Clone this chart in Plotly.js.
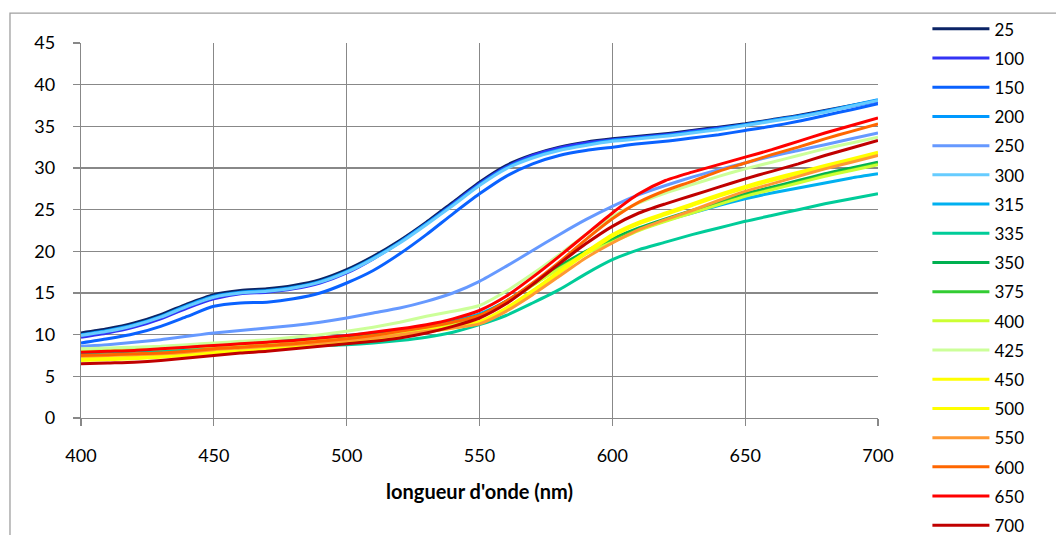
<!DOCTYPE html>
<html>
<head>
<meta charset="utf-8">
<script src="https://cdn.plot.ly/plotly-3.0.1.min.js"></script>
<style>html,body{margin:0;padding:0;background:#fff;width:1056px;height:535px;overflow:hidden;}#chart{width:1056px;height:560px;}</style>
</head>
<body>
<div id="chart"></div>
<script>
// wavelengths (nm)
const wavelength = [400,410,420,430,440,450,460,470,480,490,500,510,520,530,540,550,560,570,580,590,600,610,620,630,640,650,660,670,680,690,700];

const seriesNames = ["25","100","150","200","250","300","315","335","350","375","400","425","450","500","550","600","650","700"];
const seriesColors = ["#0B2466","#3333F5","#0A62FF","#0099FF","#6699FF","#66CCFF","#00B0F0","#00CC99","#00B050","#33CC33","#CCFF33","#CCFF99","#FFFF00","#FFFF00","#FF9933","#FF6600","#FF0000","#C00000"];

const s25  = [10.2,10.7,11.4,12.4,13.7,14.8,15.3,15.5,15.9,16.6,17.8,19.4,21.3,23.5,25.9,28.3,30.3,31.6,32.5,33.1,33.5,33.8,34.1,34.5,34.9,35.3,35.8,36.3,36.9,37.5,38.1];
const s100 = [9.7,10.2,10.9,11.9,13.2,14.3,14.9,15.1,15.5,16.2,17.4,19.1,21.1,23.3,25.7,28.1,30.1,31.5,32.4,33.0,33.4,33.7,34.0,34.4,34.8,35.2,35.7,36.2,36.8,37.4,38.0];
const s150 = [9.0,9.5,10.1,11.0,12.2,13.4,13.8,13.9,14.3,15.0,16.2,17.7,19.7,22.0,24.5,26.9,29.0,30.5,31.5,32.1,32.5,32.9,33.2,33.6,34.0,34.5,35.0,35.6,36.3,37.0,37.7];
const s200 = [10.0,10.5,11.2,12.2,13.5,14.6,15.1,15.3,15.7,16.4,17.6,19.2,21.1,23.3,25.6,28.0,30.0,31.3,32.2,32.8,33.3,33.6,33.9,34.3,34.7,35.2,35.7,36.2,36.8,37.5,38.2];
const s250 = [8.6,8.8,9.1,9.4,9.8,10.2,10.5,10.8,11.1,11.5,12.0,12.6,13.2,14.0,15.0,16.4,18.2,20.1,22.0,23.8,25.4,26.8,27.9,28.9,29.8,30.6,31.4,32.1,32.8,33.5,34.2];
const s300 = [9.9,10.4,11.1,12.1,13.4,14.5,15.0,15.2,15.6,16.3,17.5,19.1,21.0,23.2,25.5,27.9,29.9,31.2,32.1,32.7,33.2,33.5,33.8,34.2,34.6,35.1,35.6,36.1,36.7,37.4,38.1];
const s315 = [8.1,8.2,8.3,8.4,8.6,8.8,9.0,9.2,9.4,9.6,9.9,10.2,10.6,11.1,11.7,12.5,14.0,16.0,18.0,19.8,21.3,22.6,23.7,24.6,25.5,26.3,27.0,27.6,28.2,28.8,29.3];
const s335 = [7.8,7.9,8.0,8.1,8.2,8.3,8.4,8.5,8.6,8.7,8.8,9.0,9.3,9.7,10.3,11.2,12.3,13.8,15.4,17.3,19.0,20.2,21.1,22.0,22.8,23.6,24.3,25.0,25.7,26.3,26.9];
const s350 = [8.2,8.3,8.4,8.5,8.7,8.8,9.0,9.1,9.3,9.5,9.7,10.0,10.4,10.9,11.5,12.3,14.0,16.1,18.2,20.0,21.5,22.8,23.9,24.9,25.9,26.9,27.7,28.5,29.3,30.0,30.7];
const s375 = [8.1,8.2,8.3,8.4,8.6,8.7,8.9,9.0,9.2,9.4,9.6,9.9,10.3,10.8,11.4,12.2,13.9,16.0,18.0,19.8,21.3,22.6,23.7,24.7,25.7,26.7,27.5,28.3,29.1,29.8,30.5];
const s400 = [8.0,8.1,8.2,8.3,8.5,8.6,8.8,8.9,9.1,9.3,9.5,9.8,10.2,10.7,11.3,12.1,13.8,15.9,17.9,19.7,21.1,22.5,23.6,24.6,25.6,26.6,27.4,28.2,29.0,29.7,30.4];
const s425 = [8.3,8.4,8.5,8.6,8.8,9.0,9.2,9.4,9.7,10.0,10.4,10.9,11.5,12.2,12.8,13.5,15.2,17.3,19.6,22.0,24.2,25.8,27.0,28.0,29.0,29.9,30.7,31.5,32.3,33.0,33.7];
const s450 = [7.1,7.2,7.3,7.5,7.7,8.0,8.2,8.4,8.7,9.0,9.3,9.6,10.0,10.5,11.0,11.6,13.2,15.3,17.6,19.9,22.0,23.5,24.6,25.7,26.8,27.8,28.7,29.5,30.3,31.1,31.9];
const s500 = [6.9,7.0,7.1,7.3,7.5,7.8,8.0,8.2,8.5,8.8,9.1,9.4,9.8,10.3,10.8,11.4,13.0,15.1,17.4,19.7,21.8,23.3,24.4,25.5,26.6,27.6,28.5,29.3,30.1,30.9,31.7];
const s550 = [7.4,7.5,7.6,7.7,7.9,8.2,8.4,8.6,8.8,9.0,9.3,9.6,10.0,10.4,10.8,11.3,12.8,14.8,17.0,19.2,21.0,22.6,23.8,24.9,26.1,27.2,28.1,29.0,29.9,30.7,31.5];
const s600 = [7.5,7.6,7.7,7.8,8.0,8.3,8.5,8.7,8.9,9.2,9.5,9.9,10.4,10.9,11.5,12.3,14.0,16.2,18.7,21.4,23.9,25.9,27.3,28.4,29.6,30.6,31.6,32.5,33.5,34.4,35.3];
const s650 = [7.9,8.0,8.1,8.3,8.5,8.7,8.9,9.1,9.3,9.6,9.9,10.3,10.7,11.2,11.9,12.9,14.6,16.9,19.4,22.0,24.6,26.9,28.5,29.5,30.4,31.3,32.2,33.2,34.2,35.1,36.0];
const s700 = [6.5,6.6,6.7,6.9,7.2,7.5,7.8,8.0,8.3,8.6,8.9,9.2,9.6,10.2,11.0,12.0,13.7,16.0,18.5,20.9,23.0,24.6,25.7,26.7,27.7,28.7,29.6,30.5,31.5,32.4,33.3];

const seriesValues = [s25,s100,s150,s200,s250,s300,s315,s335,s350,s375,s400,s425,s450,s500,s550,s600,s650,s700];

const xTickVals = [400,450,500,550,600,650,700];
const yTickVals = [0,5,10,15,20,25,30,35,40,45];
const xTitle = "longueur d'onde (nm)";

const traces = seriesNames.map((name, i) => ({
  x: wavelength,
  y: seriesValues[i],
  name: name,
  legendgroup: "g" + i,
  type: "scatter",
  mode: "lines",
  line: {color: seriesColors[i], width: 3, shape: "spline", smoothing: 0.6}
}));

const fontFam = "Lato, 'Open Sans', sans-serif";
const layout = {
  width: 1056, height: 560,
  margin: {l: 81, r: 178, t: 42, b: 142, pad: 0},
  paper_bgcolor: "#ffffff", plot_bgcolor: "#ffffff",
  font: {family: fontFam, size: 17, color: "#000000"},
  showlegend: true,
  legend: {
    x: 1.062, xanchor: "left", y: 1.0816, yanchor: "top",
    font: {family: fontFam, size: 17, color: "#000000"},
    tracegroupgap: 4.1, itemwidth: 57, bgcolor: "rgba(0,0,0,0)",
    maxheight: 2000
  },
  xaxis: {
    range: [400, 700], tickvals: xTickVals, ticktext: xTickVals.map(String),
    showgrid: true, gridcolor: "#888888", gridwidth: 1.3,
    zeroline: false, showline: true, linecolor: "#888888", linewidth: 1.3,
    ticks: "outside", ticklen: 7, tickcolor: "#888888", tickwidth: 1.3,
    tickfont: {family: fontFam, size: 18, color: "#000"},
    ticklabelstandoff: 14,
    title: {text: "<b>" + xTitle + "</b>", font: {family: fontFam, size: 20, color: "#000"}, standoff: 20},
    fixedrange: true
  },
  yaxis: {
    range: [0, 45], tickvals: yTickVals, ticktext: yTickVals.map(String),
    showgrid: true, gridcolor: "#888888", gridwidth: 1.3,
    zeroline: false, showline: true, linecolor: "#888888", linewidth: 1.3,
    ticks: "outside", ticklen: 7, tickcolor: "#888888", tickwidth: 1.3,
    tickfont: {family: fontFam, size: 18, color: "#000"},
    ticklabelstandoff: 14,
    fixedrange: true
  },
  shapes: [{
    type: "rect", xref: "paper", yref: "paper",
    x0: -0.0891, x1: 1.5, y0: 1.0798, y1: -0.5,
    line: {color: "#A0A0A0", width: 1.3}, fillcolor: "rgba(0,0,0,0)", layer: "below"
  }]
};

Plotly.newPlot("chart", traces, layout, {displayModeBar: false, staticPlot: true});
</script>
</body>
</html>
